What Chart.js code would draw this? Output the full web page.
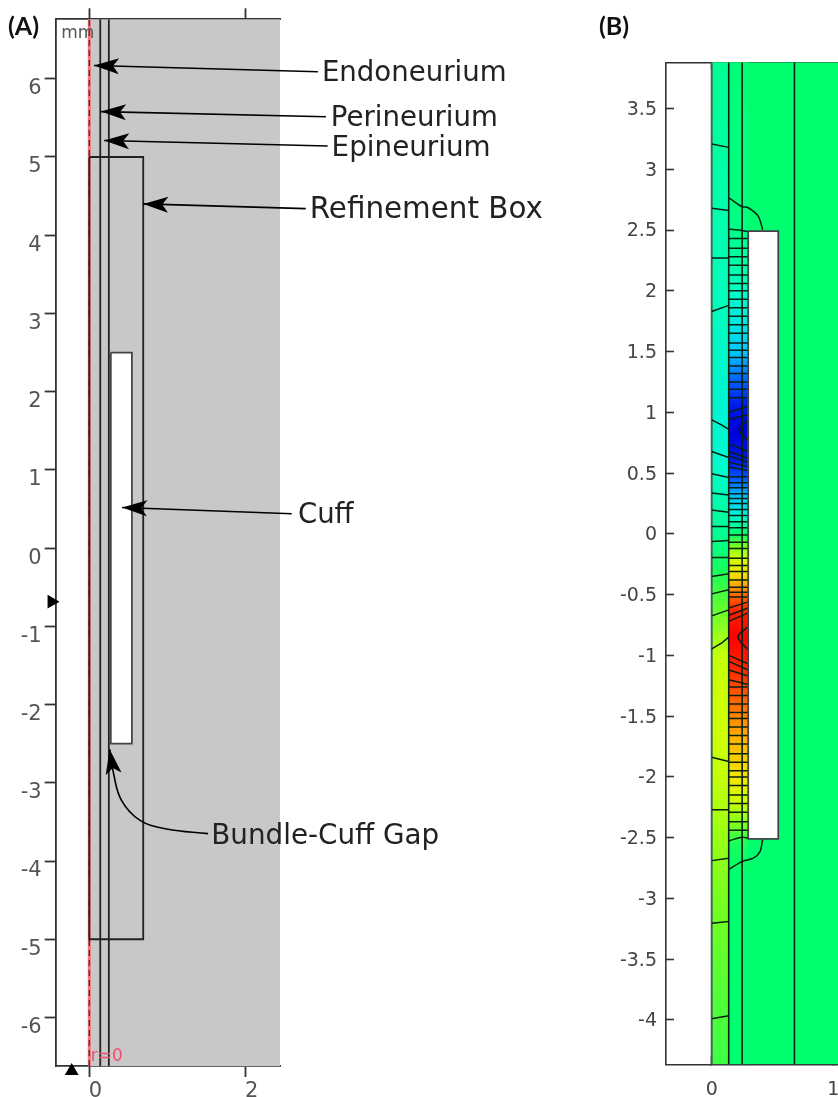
<!DOCTYPE html>
<html>
<head>
<meta charset="utf-8">
<title>Cuff model geometry and field</title>
<script src="https://cdn.jsdelivr.net/npm/chart.js@4/dist/chart.umd.js"></script>
<style>
  html, body { margin: 0; padding: 0; background: #fff; }
  body { position: relative; width: 838px; height: 1097px; overflow: hidden; }
  canvas { position: absolute; top: 0; filter: blur(0.4px); }
  #geometry { left: 0; }
  #field { left: 600px; }
  .panel { position: absolute; top: 10px; font: 700 25px Lato, sans-serif; color: #111; }
</style>
</head>
<body>
<canvas id="geometry" width="600" height="1097"></canvas>
<canvas id="field" width="268" height="1097"></canvas>
<div class="panel" style="left:8px">(A)</div>
<div class="panel" style="left:599px">(B)</div>
<script>
// Panel A: geometry, mm
const geoYTicks = [6, 5, 4, 3, 2, 1, 0, -1, -2, -3, -4, -5, -6];
const geoXTicks = [0, 2];
const tissueLines = [0.14, 0.25];
const refinementBox = { x: [0, 0.69], y: [5, -5] };
const geoCuff = { x: [0.275, 0.545], y: [2.5, -2.5] };
const calloutNames = ['Endoneurium', 'Perineurium', 'Epineurium', 'Refinement Box', 'Cuff', 'Bundle-Cuff Gap'];
const calloutSizes = [27.6, 27.6, 27.8, 29.4, 27.5, 27.8];
const calloutTextX = [2.976, 3.09, 3.10, 2.82, 2.67, 1.56];
const calloutTextY = [6.064, 5.484, 5.104, 4.324, 0.414, -3.696];
const calloutPaths = [
    [[2.925, 6.09], [0.06, 6.17]],
    [[3.027, 5.514], [0.15, 5.58]],
    [[3.05, 5.14], [0.19, 5.21]],
    [[2.77, 4.34], [0.69, 4.40]],
    [[2.59, 0.44], [0.42, 0.52]],
    [[1.52, -3.65], [0.99, -3.59], [0.65, -3.48], [0.41, -3.22], [0.31, -2.88], [0.26, -2.57]]
];

// Panel B: potential field, mm
const fieldYTicks = [3.5, 3, 2.5, 2, 1.5, 1, 0.5, 0, -0.5, -1, -1.5, -2, -2.5, -3, -3.5, -4];
const fieldXTicks = [0, 1];
const fieldVerticals = [0.14, 0.25, 0.68];
const fieldCuff = { x: [0.30, 0.547], y: [2.49, -2.51] };

// level, 0 = deepest blue, 1 = deepest red
const bulkLevel = 0.45;
const endoY = [3.88, 2.7, 2, 1, 0.5, 0, -0.3, -0.6, -1, -1.5, -2, -2.5, -3, -3.5, -4.365];
const endoLevel = [0.41, 0.38, 0.365, 0.33, 0.345, 0.41, 0.47, 0.53, 0.62, 0.63, 0.62, 0.58, 0.55, 0.53, 0.50];
const gapY = [3.88, 2.7, 2.5, 2.2, 2, 1.7, 1.5, 1.25, 1.05, 0.85, 0.6, 0.45, 0.3, 0.15, 0, -0.1, -0.2, -0.35, -0.5, -0.65, -0.85, -1.1, -1.4, -1.7, -2, -2.2, -2.4, -2.55, -2.8, -4.365];
const gapLevel = [0.44, 0.43, 0.42, 0.38, 0.35, 0.30, 0.25, 0.15, 0.05, 0, 0.05, 0.15, 0.25, 0.33, 0.45, 0.55, 0.63, 0.72, 0.85, 0.96, 1, 0.95, 0.85, 0.77, 0.70, 0.63, 0.55, 0.47, 0.45, 0.45];
const rampAt = [0, 0.12, 0.25, 0.35, 0.45, 0.55, 0.65, 0.75, 0.87, 1];
const rampColor = ['#0000dc', '#003cff', '#00c8ff', '#00ffc8', '#00ff6e', '#78ff1e', '#e6ff00', '#ffc800', '#ff5a00', '#ff0000'];

// contour lines in the gap beside the cuff, straight across
const gapContours = [2.43, 2.35, 2.28, 2.21, 2.13, 2.06, 2.00, 1.93, 1.86, 1.79, 1.72, 1.65, 1.57, 1.51, 1.45, 1.38, 1.32, 1.25, 1.19, 1.12,
    0.47, 0.42, 0.38, 0.33, 0.29, 0.25, 0.20, 0.15, 0.10, 0.05, -0.01, -0.07, -0.12, -0.20, -0.26, -0.31, -0.38, -0.44, -0.48, -0.52,
    -1.26, -1.33, -1.40, -1.47, -1.52, -1.59, -1.66, -1.73, -1.81, -1.88, -1.95, -2.0, -2.07, -2.15, -2.22, -2.29, -2.37, -2.44];
// contours that tilt towards the two electrodes: left end, right end
const gapTilted = [
    [1.0, 1.05], [0.94, 0.98], [0.74, 0.68], [0.68, 0.62], [0.64, 0.59], [0.59, 0.55], [0.55, 0.52],
    [-0.61, -0.56], [-0.67, -0.61], [-0.72, -0.65], [-1.0, -1.07], [-1.05, -1.12], [-1.12, -1.17], [-1.2, -1.24]
];
const fieldArcs = [
    [[0.145, 2.763], [0.247, 2.693], [0.30, 2.683], [0.383, 2.612], [0.419, 2.502]],
    [[0.14, 2.508], [0.247, 2.496], [0.30, 2.488]],
    [[0.14, -2.527], [0.247, -2.496], [0.30, -2.504]],
    [[0.145, -2.76], [0.247, -2.697], [0.342, -2.669], [0.397, -2.615], [0.419, -2.513]],
    [[0.298, 0.938], [0.224, 0.856], [0.298, 0.765]],
    [[0.298, -0.765], [0.216, -0.848], [0.298, -0.955]]
];
// contours in the endoneurium, x = 0 to 0.14
const endoContours = [
    [[0, 3.207], [0.14, 3.18]],
    [[0, 2.68], [0.14, 2.66]],
    [[0, 2.27], [0.14, 2.27]],
    [[0, 1.83], [0.14, 1.88]],
    [[0, 0.938], [0.08, 0.897], [0.14, 0.86]],
    [[0, 0.677], [0.14, 0.628]],
    [[0, 0.494], [0.14, 0.463]],
    [[0, 0.335], [0.14, 0.32]],
    [[0, 0.197], [0.14, 0.178]],
    [[0, 0.06], [0.14, 0.06]],
    [[0, -0.063], [0.14, -0.055]],
    [[0, -0.195], [0.14, -0.195]],
    [[0, -0.351], [0.14, -0.329]],
    [[0, -0.494], [0.14, -0.461]],
    [[0, -0.675], [0.14, -0.626]],
    [[0, -0.947], [0.08, -0.9], [0.14, -0.85]],
    [[0, -1.838], [0.14, -1.874]],
    [[0, -2.27], [0.14, -2.27]],
    [[0, -2.689], [0.14, -2.669]],
    [[0, -3.204], [0.14, -3.19]],
    [[0, -3.99], [0.14, -3.965]]
];

const GEO_X = [-0.43, 2.44], GEO_Y = [-6.62, 6.76];
const FIELD_X = [-0.3755, 1.038], FIELD_Y = [-4.365, 3.88];

// Helpers for building datasets
function polyline(points, color, width, extra) {
    return {
        data: points.map(p => ({ x: p[0], y: p[1] })),
        showLine: true,
        borderColor: color,
        borderWidth: width,
        pointRadius: 0,
        fill: false,
        ...extra
    };
}

function box(xs, ys, fillColor, lineColor, width) {
    const corners = [[xs[0], ys[0]], [xs[1], ys[0]], [xs[1], ys[1]], [xs[0], ys[1]], [xs[0], ys[0]]];
    return polyline(corners, lineColor, width, { fill: 'shape', backgroundColor: fillColor });
}

function vertical(x, ys, color, width, extra) {
    return polyline([[x, ys[0]], [x, ys[1]]], color, width, extra);
}

function levelColor(level) {
    let i = 0;
    while (i < rampAt.length - 2 && level > rampAt[i + 1]) i++;
    const t = (level - rampAt[i]) / (rampAt[i + 1] - rampAt[i]);
    const rgb = c => [1, 3, 5].map(k => parseInt(c.substr(k, 2), 16));
    const a = rgb(rampColor[i]), b = rgb(rampColor[i + 1]);
    return 'rgb(' + a.map((v, k) => Math.round(v + (b[k] - v) * t)).join(',') + ')';
}

function levelGradient(ys, levels) {
    return context => {
        const chart = context.chart;
        if (!chart.chartArea) return 'transparent';
        const scale = chart.scales.y;
        const top = scale.getPixelForValue(ys[0]);
        const bottom = scale.getPixelForValue(ys[ys.length - 1]);
        const gradient = chart.ctx.createLinearGradient(0, top, 0, bottom);
        ys.forEach((y, i) => {
            gradient.addColorStop((scale.getPixelForValue(y) - top) / (bottom - top), levelColor(levels[i]));
        });
        return gradient;
    };
}

function axis(id, range, ticks, opts) {
    return {
        type: 'linear',
        axis: id[0],
        position: opts.position,
        min: range[0],
        max: range[1],
        afterBuildTicks: scale => { scale.ticks = ticks.map(value => ({ value })); },
        afterFit: scale => {
            if (opts.width !== undefined) scale.width = opts.width;
            if (opts.height !== undefined) scale.height = opts.height;
        },
        border: { color: opts.color, width: opts.borderWidth },
        grid: { drawOnChartArea: false, tickLength: opts.tickLength, tickColor: opts.color, tickWidth: opts.borderWidth },
        ticks: {
            display: opts.labels !== false,
            autoSkip: false,
            maxRotation: 0,
            padding: opts.padding,
            labelOffset: opts.labelOffset,
            color: opts.labelColor,
            font: { family: 'DejaVu Sans', size: opts.fontSize },
            callback: value => String(value)
        }
    };
}

// Text and arrow heads placed through the scales
const annotate = {
    id: 'annotate',
    afterDatasetsDraw(chart, args, options) {
        const { ctx } = chart;
        const sx = chart.scales.x, sy = chart.scales.y;
        ctx.save();
        chart.data.datasets.forEach((ds, i) => {
            if (!ds.arrowHead) return;
            const pts = chart.getDatasetMeta(i).data;
            const tip = pts[pts.length - 1], prev = pts[pts.length - 2];
            const angle = Math.atan2(tip.y - prev.y, tip.x - prev.x);
            ctx.save();
            ctx.translate(tip.x, tip.y);
            ctx.rotate(angle);
            ctx.fillStyle = '#000';
            ctx.beginPath();
            ctx.moveTo(0, 0);
            ctx.lineTo(-25, -8);
            ctx.lineTo(-19, 0);
            ctx.lineTo(-25, 8);
            ctx.closePath();
            ctx.fill();
            ctx.restore();
        });
        (options.texts || []).forEach(t => {
            ctx.font = t.font;
            ctx.fillStyle = t.color;
            ctx.textAlign = 'left';
            ctx.textBaseline = t.baseline;
            ctx.fillText(t.text, sx.getPixelForValue(t.x), sy.getPixelForValue(t.y));
        });
        ctx.restore();
    }
};

function chartOptions(scales, padding, texts) {
    return {
        responsive: false,
        animation: false,
        events: [],
        layout: { autoPadding: false, padding },
        scales,
        plugins: {
            legend: { display: false },
            title: { display: false },
            tooltip: { enabled: false },
            annotate: { texts }
        }
    };
}

// Initialize geometry panel
function initGeometry() {
    const datasets = [
        box([0, GEO_X[1]], GEO_Y, '#c8c8c8', 'transparent', 0),
        vertical(0, GEO_Y, '#f8727e', 3),
        vertical(0, GEO_Y, '#3c3c3c', 1.4, { borderDash: [6, 4] }),
        ...tissueLines.map(x => vertical(x, GEO_Y, '#222', 1.8)),
        box(refinementBox.x, refinementBox.y, 'transparent', '#222', 1.8),
        box(geoCuff.x, geoCuff.y, '#fff', '#444', 1.8),
        ...calloutPaths.map((path, i) => polyline(path, '#000', 1.6, { clip: false, arrowHead: true, tension: i === 5 ? 0.4 : 0 })),
        // the two small axis markers
        { data: [{ x: -0.483, y: -0.684 }], pointStyle: 'triangle', pointRotation: 90, pointRadius: 8, pointBackgroundColor: '#000', pointBorderWidth: 0, clip: false },
        { data: [{ x: -0.225, y: -6.685 }], pointStyle: 'triangle', pointRadius: 8, pointBackgroundColor: '#000', pointBorderWidth: 0, clip: false }
    ].reverse();

    const texts = calloutNames.map((text, i) => ({
        text, x: calloutTextX[i], y: calloutTextY[i], baseline: 'middle', color: '#222', font: calloutSizes[i] + 'px "DejaVu Sans"'
    }));
    texts.push({ text: 'mm', x: -0.36, y: 6.52, baseline: 'alphabetic', color: '#555', font: '17px "DejaVu Sans"' });
    texts.push({ text: 'r=0', x: 0.02, y: -6.55, baseline: 'alphabetic', color: '#f0506e', font: '17px "DejaVu Sans"' });

    const frame = { color: '#333', borderWidth: 1.8, labelColor: '#555', fontSize: 21 };
    new Chart(document.getElementById('geometry'), {
        type: 'scatter',
        data: { datasets },
        options: chartOptions({
            x: axis('x', GEO_X, geoXTicks, { ...frame, position: 'bottom', height: 31, tickLength: 11, padding: 2, labelOffset: 6 }),
            xTop: axis('xTop', GEO_X, geoXTicks, { ...frame, position: 'top', height: 19.3, tickLength: 11, labels: false }),
            y: axis('y', GEO_Y, geoYTicks, { ...frame, position: 'left', width: 55.7, tickLength: 11, padding: 3, labelOffset: 10 })
        }, { right: 320 }, texts),
        plugins: [annotate]
    });
}

// Initialize field panel
function initField() {
    const ink = '#06200f';
    const datasets = [
        box([0, FIELD_X[1]], FIELD_Y, levelColor(bulkLevel), 'transparent', 0),
        box([0, 0.14], FIELD_Y, levelGradient(endoY, endoLevel), 'transparent', 0),
        box([0.14, 0.30], FIELD_Y, levelGradient(gapY, gapLevel), 'transparent', 0),
        vertical(0, FIELD_Y, '#3c6a50', 2),
        ...fieldVerticals.map(x => vertical(x, FIELD_Y, ink, 1.6)),
        ...gapContours.map(y => polyline([[0.14, y], [0.30, y]], ink, 1.5)),
        ...gapTilted.map(pair => polyline([[0.14, pair[0]], [0.30, pair[1]]], ink, 1.5)),
        ...endoContours.map(path => polyline(path, ink, 1.5)),
        ...fieldArcs.map(path => polyline(path, ink, 1.5, { tension: 0.3 })),
        box(fieldCuff.x, fieldCuff.y, '#fff', '#444', 1.8)
    ].reverse();

    const frame = { color: '#333', borderWidth: 1.6, labelColor: '#444', fontSize: 19 };
    new Chart(document.getElementById('field'), {
        type: 'scatter',
        data: { datasets },
        options: chartOptions({
            x: axis('x', FIELD_X, fieldXTicks, { ...frame, position: 'bottom', height: 32.7, tickLength: -8, padding: 22, labelOffset: 0 }),
            xTop: axis('xTop', FIELD_X, fieldXTicks, { ...frame, position: 'top', height: 0, tickLength: -7, labels: false }),
            y: axis('y', FIELD_Y, fieldYTicks, { ...frame, position: 'left', width: 66, tickLength: -8, padding: 17, labelOffset: 1.5 })
        }, { top: 62.3, right: 30 }, []),
        plugins: [annotate]
    });
}

document.addEventListener('DOMContentLoaded', () => {
    initGeometry();
    initField();
});
</script>
</body>
</html>
